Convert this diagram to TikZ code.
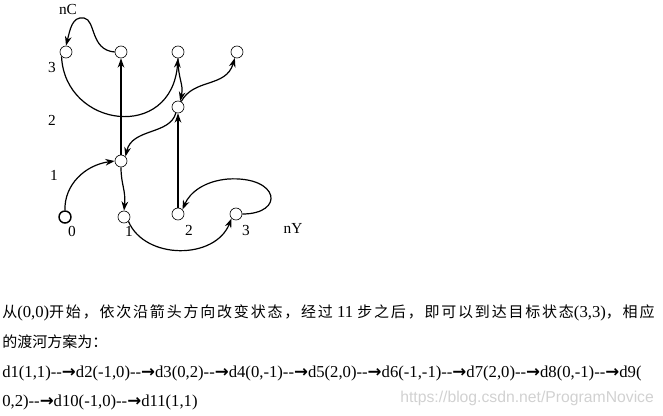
\documentclass[tikz,border=0pt]{standalone}
\usepackage{fontspec}
\setmainfont{Liberation Serif}
\setsansfont{Liberation Sans}
\newfontfamily\cjk[Scale=0.9]{Noto Sans CJK SC}
\newfontfamily\cjkwide[Scale=0.9,LetterSpace=12]{Noto Sans CJK SC}
\newfontfamily\arrowfont{DejaVu Sans}
\usetikzlibrary{arrows.meta}
\newcommand\goes{-{}-{\arrowfont\bfseries →}}

\begin{document}
\begin{tikzpicture}[x=0.75pt,y=0.75pt,yscale=-1,xscale=1,
  state/.style={draw,circle,minimum size=9pt,inner sep=0pt,line width=0.5pt},
  start/.style={state,line width=1.1pt},
  move/.style={line width=0.9pt,-{Stealth[length=7pt,width=5pt]}},
  axis/.style={inner sep=0pt,font=\fontsize{11.5}{13}\selectfont},
  line/.style={anchor=base west,inner sep=0pt,font=\fontsize{12.5}{15}\selectfont}]
\useasboundingbox (0,0) rectangle (663,415);

% States (nY,nC)
\node [start] (s00) at (65,217) {};
\node [state] (s10) at (124,217) {};
\node [state] (s20) at (178,214) {};
\node [state] (s30) at (236,214) {};
\node [state] (s11) at (121,161) {};
\node [state] (s22) at (178,107) {};
\node [state] (s03) at (66,52) {};
\node [state] (s13) at (121,52) {};
\node [state] (s23) at (178,52) {};
\node [state] (s33) at (237,52) {};

% Text Node
\node [axis] (nC) at (68,9) {nC};
\node [axis] (c3) at (52,67) {3};
\node [axis] (c2) at (52,120) {2};
\node [axis] (c1) at (54,175) {1};
\node [axis] (y0) at (72,231) {0};
\node [axis] (y1) at (129,231) {1};
\node [axis] (y2) at (189,230) {2};
\node [axis] (y3) at (246,230) {3};
\node [axis] (nY) at (293,228) {nY};

%Straight Lines
\draw [move] (s20.north) -- (s22.south);
\draw [move] (s11.north) -- (s13.south);

%Curve Lines
\draw [move] (s00.north) .. controls (64,185) and (85,165) .. (s11.west);
\draw [move] (s11.south) .. controls (121,185) and (126,190) .. (s10.north);
\draw [move] (s10.south east) .. controls (145,260) and (215,260) .. (s30.south west);
\draw [move] (s30.east) .. controls (285,214) and (280,176) .. (228,179) .. controls (205,181) and (190,192) .. (s20.north east);
\draw [move] (s22.250) .. controls (170,135) and (132,128) .. (s11.north east);
\draw [move] (s13.west) .. controls (90,50) and (96,20) .. (84,18) .. controls (72,16) and (70,30) .. (s03.north);
\draw [move] (s03.south west) .. controls (65,128) and (172,142) .. (s23.south);
\draw [move] (s23.south) .. controls (178,80) and (184,84) .. (s22.70);
\draw [move] (s22.60) .. controls (194,78) and (226,88) .. (s33.250);

% Text Node
\node [line] (t1) at (2,317) {{\cjkwide 从}(0,0){\cjkwide 开始，依次沿箭头方向改变状态，经过} 11 {\cjkwide 步之后，即可以到达目标状态}(3,3){\cjkwide ，相应}};
\node [line] (t2) at (2,347) {\cjk 的渡河方案为：};
\node [line] (t3) at (2,377) {d1(1,1)\goes d2(-1,0)\goes d3(0,2)\goes d4(0,-1)\goes d5(2,0)\goes d6(-1,-1)\goes d7(2,0)\goes d8(0,-1)\goes d9(};
\node [line] (t4) at (2,406) {0,2)\goes d10(-1,0)\goes d11(1,1)};
\node [anchor=base west,inner sep=0pt,text=black!18,font=\sffamily\fontsize{11.8}{14}\selectfont] (mark) at (400,402) {https://blog.csdn.net/ProgramNovice};

\end{tikzpicture}
\end{document}
